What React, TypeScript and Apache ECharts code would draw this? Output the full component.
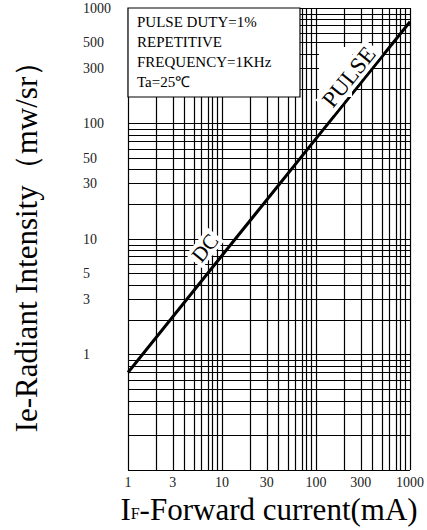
import React, { useEffect, useRef } from "react";
import * as echarts from "echarts";

// Forward current (mA) vs radiant intensity (mW/sr)
const currentMA = [1, 10, 100, 1000];
const intensity = [0.7, 7.2, 74, 760];

// Tick labels
const xLabelValues = [1, 3, 10, 30, 100, 300, 1000];
const yLabelValues = [1, 3, 5, 10, 30, 50, 100, 300, 500, 1000];

// Log grid lines
const xGridValues = [
  1, 2, 3, 4, 5, 6, 7, 8, 9,
  10, 20, 30, 40, 50, 60, 70, 80, 90,
  100, 200, 300, 400, 500, 600, 700, 800, 900, 1000,
];
const yGridValues = [
  0.1, 0.2, 0.3, 0.4, 0.5, 0.6, 0.7, 0.8, 0.9,
  1, 2, 3, 4, 5, 6, 7, 8, 9,
  10, 20, 30, 40, 50, 60, 70, 80, 90,
  100, 200, 300, 400, 500, 600, 700, 800, 900, 1000,
];

const legendLines = ["PULSE DUTY=1%", "REPETITIVE", "FREQUENCY=1KHz", "Ta=25℃"];

const SERIF = "'Liberation Serif', 'Times New Roman', serif";
const lg = (v: number) => Math.log10(v);

export default function App() {
  const ref = useRef<HTMLDivElement>(null);

  useEffect(() => {
    if (!ref.current) return;
    const chart = echarts.init(ref.current, undefined, { renderer: "svg" });

    const gridLeft = 128;
    const gridTop = 8;

    const option: any = {
      animation: false,
      backgroundColor: "#fff",
      grid: { left: gridLeft, top: gridTop, width: 283, height: 464, containLabel: false },
      xAxis: {
        type: "value",
        min: lg(1),
        max: lg(1000),
        axisLine: { show: false },
        axisTick: { show: false },
        splitLine: { show: false },
        axisLabel: {
          customValues: xLabelValues.map(lg),
          formatter: (v: number) => String(Math.round(Math.pow(10, v))),
          color: "#222",
          fontFamily: SERIF,
          fontSize: 14,
          margin: 5,
        },
        name: "{i|I}{s|F}{i|-Forward current(mA)}",
        nameLocation: "middle",
        nameGap: 20,
        nameTextStyle: {
          color: "#000",
          rich: {
            i: { fontFamily: SERIF, fontSize: 31, color: "#000", verticalAlign: "bottom" },
            s: { fontFamily: SERIF, fontSize: 16, color: "#000", verticalAlign: "bottom", padding: [0, 0, 4, 0] },
          },
        },
      },
      yAxis: {
        type: "value",
        min: lg(0.1),
        max: lg(1000),
        axisLine: { show: false },
        axisTick: { show: false },
        splitLine: { show: false },
        axisLabel: {
          customValues: yLabelValues.map(lg),
          formatter: (v: number) => String(Math.round(Math.pow(10, v))),
          color: "#222",
          fontFamily: SERIF,
          fontSize: 14,
          align: "left",
          margin: 45,
          padding: [6, 0, 0, 0],
        },
        name: "Ie-Radiant Intensity（mw/sr）",
        nameLocation: "middle",
        nameRotate: 90,
        nameGap: 86,
        nameTextStyle: { color: "#000", fontFamily: SERIF, fontSize: 31 },
      },
      series: [
        {
          type: "line",
          data: [],
          silent: true,
          markLine: {
            silent: true,
            symbol: ["none", "none"],
            label: { show: false },
            emphasis: { disabled: true },
            lineStyle: { type: "solid", color: "#000", width: 1.2 },
            data: [
              ...xGridValues.map((v) => ({ xAxis: lg(v) })),
              ...yGridValues.map((v) => ({ yAxis: lg(v) })),
            ],
          },
          z: 1,
        },
        {
          type: "line",
          data: currentMA.map((c, i) => [lg(c), lg(intensity[i])]),
          symbol: "none",
          lineStyle: { color: "#000", width: 3 },
          silent: true,
          z: 3,
        },
      ],
      graphic: [
        {
          type: "rect",
          z: 100,
          shape: { x: gridLeft, y: gridTop, width: 172, height: 89 },
          style: { fill: "#fff", stroke: "#000", lineWidth: 1.2 },
        },
        {
          type: "rect",
          z: 99,
          shape: { x: 319, y: 47, width: 33, height: 50 },
          style: { fill: "#fff" },
        },
        ...legendLines.map((t, i) => ({
          type: "text",
          z: 101,
          x: 137,
          y: 22 + i * 20,
          style: {
            text: t,
            font: `15px ${SERIF}`,
            fill: "#000",
            align: "left",
            verticalAlign: "middle",
          },
        })),
        {
          type: "text",
          z: 101,
          x: 205,
          y: 248,
          rotation: (51 * Math.PI) / 180,
          style: {
            text: "DC",
            font: `21px ${SERIF}`,
            fill: "#000",
            align: "center",
            verticalAlign: "middle",
            backgroundColor: "#fff",
            padding: [0, 3, 0, 3],
          },
        },
        {
          type: "text",
          z: 101,
          x: 349,
          y: 77,
          rotation: (51 * Math.PI) / 180,
          style: {
            text: "PULSE",
            font: `23px ${SERIF}`,
            fill: "#000",
            align: "center",
            verticalAlign: "middle",
            backgroundColor: "#fff",
            padding: [0, 4, 0, 4],
          },
        },
      ],
    };

    chart.setOption(option);
    return () => chart.dispose();
  }, []);

  return (
    <div
      ref={ref}
      style={{ position: "fixed", left: 0, top: 0, width: 427, height: 530, background: "#fff" }}
    />
  );
}
